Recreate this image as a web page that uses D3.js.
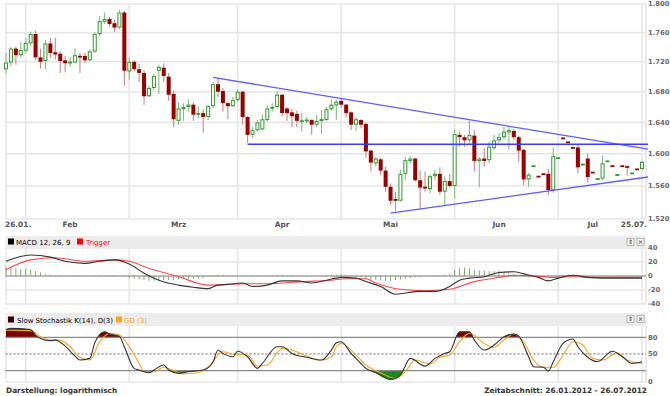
<!DOCTYPE html>
<html>
<head>
<meta charset="utf-8">
<script src="https://cdn.jsdelivr.net/npm/d3@7"></script>
<style>
  body { margin: 0; background: #fff; }
  svg text { font-family: "DejaVu Sans", Verdana, sans-serif; }
</style>
</head>
<body>
<div id="chart"></div>
<script>
// Gold, daily candles 26.01.2012 - 25.07.2012 (USD)
const opens = [1710,1719,1738,1729,1735,1745,1758,1726,1721,1745,1733,1731,1722,1718,1719,1728,1728,1722,1734,1758,
  1775,1779,1773,1767,1788,1707,1720,1710,1705,1674,1685,1708,1712,1700,1677,1642,1657,1660,1663,1650,
  1652,1647,1661,1690,1681,1665,1661,1669,1680,1647,1624,1630,1631,1643,1658,1660,1676,1658,1653,1651,
  1641,1642,1643,1637,1642,1643,1657,1662,1668,1663,1653,1637,1643,1638,1604,1588,1593,1579,1559,1544,
  1542,1575,1591,1594,1567,1559,1556,1572,1575,1553,1566,1560,1624,1621,1617,1623,1591,1594,1592,1607,
  1617,1621,1627,1629,1621,1605,1568,1584,1572,1575,1575,1555,1594,1620,1615,1608,1608,1586,1594,1577,
  1568,1569,1590,1585,1573,1585,1584,1575,1581,1581];
const highs = [1732,1740,1741,1747,1753,1761,1763,1738,1750,1753,1753,1734,1728,1727,1738,1732,1732,1737,1760,1783,
  1788,1782,1778,1792,1790,1726,1722,1717,1709,1688,1704,1716,1718,1705,1682,1666,1665,1670,1666,1661,
  1657,1663,1693,1698,1685,1667,1673,1683,1681,1648,1634,1643,1650,1663,1665,1681,1677,1660,1657,1655,
  1652,1647,1644,1650,1656,1660,1670,1669,1671,1664,1654,1647,1644,1640,1605,1596,1595,1584,1563,1553,
  1580,1596,1597,1595,1579,1578,1574,1580,1583,1572,1575,1631,1628,1624,1642,1630,1596,1607,1615,1624,
  1626,1634,1634,1632,1623,1606,1576,1585,1572,1575,1581,1608,1595,1620,1615,1608,1611,1587,1600,1577,
  1569,1598,1591,1585,1574,1585,1585,1576,1581,1591];
const lows = [1704,1714,1716,1726,1732,1741,1722,1711,1710,1725,1723,1705,1706,1713,1718,1705,1718,1721,1732,1755,
  1772,1768,1761,1765,1688,1696,1707,1693,1663,1673,1682,1677,1693,1668,1634,1637,1642,1654,1642,1645,
  1627,1643,1658,1673,1654,1644,1660,1667,1637,1614,1620,1628,1630,1641,1654,1658,1648,1642,1634,1634,
  1628,1639,1624,1634,1625,1642,1655,1643,1659,1647,1630,1629,1632,1595,1578,1584,1573,1553,1537,1529,
  1541,1567,1588,1566,1533,1553,1551,1567,1549,1535,1558,1545,1609,1609,1612,1578,1558,1584,1588,1605,
  1614,1618,1605,1617,1590,1561,1559,1584,1571,1574,1549,1552,1594,1619,1614,1607,1576,1586,1564,1576,
  1568,1567,1590,1584,1573,1584,1573,1575,1580,1580];
const closes = [1719,1738,1729,1736,1746,1758,1726,1720,1745,1732,1730,1721,1718,1720,1729,1726,1722,1734,1758,1776,
  1779,1772,1767,1788,1708,1720,1710,1705,1674,1685,1701,1713,1701,1676,1644,1658,1660,1663,1650,1652,
  1647,1661,1690,1680,1665,1661,1669,1680,1647,1624,1630,1640,1644,1658,1660,1676,1652,1652,1648,1642,
  1642,1643,1637,1642,1644,1657,1663,1667,1663,1652,1637,1644,1637,1603,1589,1594,1579,1559,1542,1542,
  1575,1592,1594,1567,1558,1557,1572,1575,1553,1566,1560,1625,1621,1617,1624,1591,1594,1591,1609,1617,
  1621,1628,1630,1621,1604,1568,1574,1585,1571,1574,1555,1597,1595,1619,1614,1607,1583,1587,1571,1576,
  1569,1588,1591,1584,1574,1584,1583,1576,1580,1590];

// MACD 12,26,9 : histogram per day, lines as [day index, value]
const histogram = [13,12,11,10,10,9,7,5,3,2,1,1,0,0,-1,-1,0,0,1,1,
  1,1,1,0,-1,-3,-4,-5,-6,-7,-7,-6,-6,-6,-6,-5,-4,-4,-4,-3,
  -3,-1,1,2,2,1,1,1,0,-1,-1,-1,0,0,1,2,2,1,1,0,
  0,-1,-1,0,1,1,2,2,2,1,0,-1,-2,-4,-5,-6,-6,-7,-7,-6,
  -5,-4,-3,-2,-2,-1,0,1,1,2,3,9,11,12,11,9,8,8,7,7,
  8,5,4,3,1,-1,-2,-2,-2,-2,-1,0,1,2,2,2,1,0,-1,-1,
  -1,0,0,0,-1,-1,-1,-1,-1,-1];
const macdLine = [[0,21],[5,30],[9,27],[12,21],[16,18],[19,21],[22,23],[25,17],[28,4],[31,-6],[35,-13],[38,-16],
  [41,-18],[43,-13],[45,-12],[48,-10],[50,-15],[53,-13],[56,-7],[59,-7],[62,-10],[65,-6],[68,-2],[71,-3],
  [73,-8],[76,-15],[79,-26],[84,-22],[87,-22],[90,-15],[92,-6],[94,-3],[97,-1],[100,5],[103,6],[105,3],
  [108,-2],[110,-7],[112,-3],[115,1],[118,-2],[121,-3],[129,-3]];
const triggerLine = [[0,9],[5,23],[10,26],[16,21],[22,23],[25,21],[29,11],[35,-1],[41,-13],[45,-12],[48,-11],
  [53,-11],[60,-8],[66,-6],[69,-4],[73,-4],[75,-10],[80,-19],[85,-21],[90,-19],[95,-8],[100,-2],[103,1],
  [107,0],[111,-2],[115,-1],[119,-2],[129,-2]];

// Slow Stochastik K(14), D(3)
const stochK = [[0,94],[1,96],[5,94],[6,84],[7,78],[9,74],[10,75],[12,64],[14,46],[15,39],[17,42],[18,70],
  [20,90],[21,86],[23,82],[24,63],[26,24],[27,21],[29,16],[30,21],[32,30],[33,21],[35,15],[37,18],[40,21],
  [42,36],[43,57],[44,51],[46,45],[47,55],[49,45],[51,24],[52,33],[55,63],[56,63],[58,51],[61,44],[64,39],
  [66,57],[67,70],[68,72],[70,51],[71,42],[73,24],[75,16],[78,4],[80,12],[82,42],[85,28],[87,42],[89,51],
  [90,54],[92,90],[94,90],[95,75],[97,57],[99,66],[101,81],[103,86],[104,82],[106,45],[107,27],[109,26],
  [110,19],[111,36],[113,69],[115,77],[116,63],[118,44],[120,36],[123,55],[125,45],[127,33],[129,36]];
const stochD = [[0,93],[5,92],[7,81],[9,75],[11,75],[13,63],[15,44],[17,39],[19,72],[21,87],[23,84],[25,63],
  [27,33],[28,18],[30,18],[32,26],[34,20],[36,14],[39,16],[41,26],[44,54],[46,50],[49,48],[51,28],[53,30],
  [56,60],[58,57],[61,46],[64,39],[66,45],[67,63],[68,69],[71,48],[73,30],[76,16],[79,6],[81,18],[83,39],
  [86,32],[88,44],[90,48],[92,72],[94,87],[97,69],[99,62],[101,75],[103,86],[105,72],[107,39],[109,26],
  [111,26],[113,48],[115,72],[117,66],[119,42],[121,39],[124,52],[126,39],[129,33]];

// Trend lines: [date, price] anchors, drawn on to the right edge
const trendLines = [
  [['2012-03-26', 1699], ['2012-07-25', 1607]],
  [['2012-04-04', 1612], ['2012-07-25', 1612]],
  [['2012-05-15', 1527], ['2012-07-25', 1570]]
];

const priceTicks = [1520, 1560, 1600, 1640, 1680, 1720, 1760, 1800];
const macdTicks = [40, 20, 0, -20, -40];
const stochTicks = [80, 50, 0];
const monthStarts = ['2012-02-01', '2012-03-01', '2012-04-02', '2012-05-01', '2012-06-01', '2012-07-02'];
const monthLabels = [['Feb', '2012-02-14'], ['Mrz', '2012-03-15'], ['Apr', '2012-04-13'],
  ['Mai', '2012-05-15'], ['Jun', '2012-06-14'], ['Jul', '2012-07-11']];

const fmt = d3.timeFormat('%Y-%m-%d');
const dates = d3.timeDay.range(new Date(2012, 0, 26), new Date(2012, 6, 26))
  .filter(d => d.getDay() % 6 !== 0).map(fmt);

const candles = dates.map((d, i) => ({ date: d, o: opens[i], h: highs[i], l: lows[i], c: closes[i] }));

const w = 670, h = 396;
const left = 5.5, right = 646;
const de = d3.formatLocale({ decimal: ',', thousands: '.', grouping: [3], currency: ['', ''] });

const svg = d3.select('#chart').append('svg')
  .attr('width', w).attr('height', h)
  .style('display', 'block');

const x = d3.scalePoint().domain(dates).range([6, 642]);
const y = d3.scaleLog().domain([1520, 1800]).range([219, 4]);
const yM = d3.scaleLinear().domain([-40, 40]).range([304, 248]);
const yS = d3.scaleLinear().domain([0, 100]).range([381.7, 326.2]);

const gridColor = '#e6e6e6';
const vDates = [dates[0], ...monthStarts, dates[dates.length - 1]];
const axisFont = 6.8;

// vertical grid + borders for a panel
function panelGrid(top, bottom) {
  svg.append('g').selectAll('line').data(vDates).enter().append('line')
    .attr('x1', d => x(d)).attr('x2', d => x(d))
    .attr('y1', top).attr('y2', bottom)
    .attr('stroke', gridColor).attr('stroke-width', 1.6);
  svg.append('line').attr('x1', right).attr('x2', right).attr('y1', top).attr('y2', bottom)
    .attr('stroke', '#d4d4d4').attr('stroke-width', 1);
}

//Main panel
panelGrid(4, 219);
svg.append('g').selectAll('line').data(priceTicks).enter().append('line')
  .attr('x1', left).attr('x2', right)
  .attr('y1', d => y(d)).attr('y2', d => y(d))
  .attr('stroke', gridColor).attr('stroke-width', 1.6);

svg.append('g').selectAll('text').data(priceTicks).enter().append('text')
  .attr('x', 648).attr('y', d => y(d)).attr('dy', '0.35em')
  .attr('font-size', axisFont).attr('font-weight', 'bold').attr('fill', '#6a6a6a')
  .text(d => de.format(',')(d));

// x labels
svg.append('text').attr('x', 5).attr('y', 227).attr('font-size', 7.4).attr('font-weight', 'bold')
  .attr('fill', '#555').text('26.01.');
svg.append('text').attr('x', 647).attr('y', 227).attr('text-anchor', 'end').attr('font-size', 7.4)
  .attr('font-weight', 'bold').attr('fill', '#555').text('25.07.');
svg.append('g').selectAll('text').data(monthLabels).enter().append('text')
  .attr('x', d => x(d[1])).attr('y', 227).attr('text-anchor', 'middle')
  .attr('font-size', 7.4).attr('font-weight', 'bold').attr('fill', '#555')
  .text(d => d[0]);

// Candles
const up = '#2f9a2f', down = '#990000';
const cg = svg.append('g');
cg.selectAll('line').data(candles).enter().append('line')
  .attr('x1', d => x(d.date)).attr('x2', d => x(d.date))
  .attr('y1', d => y(d.h)).attr('y2', d => y(d.l))
  .attr('stroke', d => d.c >= d.o ? '#80c080' : '#d08585')
  .attr('stroke-width', 1.1);

cg.selectAll('rect').data(candles).enter().append('rect')
  .each(function (d) {
    const r = d3.select(this);
    const top = y(Math.max(d.o, d.c)), bot = y(Math.min(d.o, d.c));
    const isUp = d.c >= d.o;
    if (bot - top < 2) {
      r.attr('x', x(d.date) - 2).attr('width', 4)
        .attr('y', (top + bot) / 2 - 0.9).attr('height', 1.8)
        .attr('fill', isUp ? up : down);
    } else if (isUp) {
      r.attr('x', x(d.date) - 1.5).attr('width', 3)
        .attr('y', top + 0.5).attr('height', bot - top - 1)
        .attr('fill', '#fff').attr('stroke', up).attr('stroke-width', 1);
    } else {
      r.attr('x', x(d.date) - 2).attr('width', 4)
        .attr('y', top).attr('height', bot - top)
        .attr('fill', down);
    }
  });

// Trend lines
trendLines.forEach((t, k) => {
  const x1 = x(t[0][0]), y1 = y(t[0][1]), x2 = x(t[1][0]), y2 = y(t[1][1]);
  const xe = 648, ye = y1 + (y2 - y1) * (xe - x1) / (x2 - x1);
  svg.append('line').attr('x1', x1).attr('y1', y1).attr('x2', xe).attr('y2', ye)
    .attr('stroke', k === 1 ? '#3b3bff' : '#5c5cff').attr('stroke-width', 1.3);
});

// Panel header bands
function header(top, hgt) {
  svg.append('rect').attr('x', left).attr('y', top).attr('width', right - left).attr('height', hgt)
    .attr('fill', '#ececec');
  [627, 637].forEach((bx, j) => {
    svg.append('rect').attr('x', bx).attr('y', top + 2.5).attr('width', 7).attr('height', 7)
      .attr('fill', '#f6f6f6').attr('stroke', '#a8a8a8').attr('stroke-width', 0.8);
    svg.append('text').attr('x', bx + 3.5).attr('y', top + 8.3).attr('text-anchor', 'middle')
      .attr('font-size', 6).attr('font-weight', 'bold').attr('fill', '#555')
      .text(j === 0 ? '⇕' : '×');
  });
}

//MACD panel
header(236, 11);
svg.append('rect').attr('x', 8).attr('y', 238.5).attr('width', 6).attr('height', 6).attr('fill', '#000');
svg.append('text').attr('x', 16).attr('y', 244.5).attr('font-size', 7).attr('fill', '#000').text('MACD 12, 26, 9');
svg.append('rect').attr('x', 77).attr('y', 238.5).attr('width', 6).attr('height', 6).attr('fill', '#f00');
svg.append('text').attr('x', 86).attr('y', 244.5).attr('font-size', 7).attr('fill', '#f00').text('Trigger');

panelGrid(247, 304);
svg.append('g').selectAll('line').data(macdTicks.filter(d => d !== 0)).enter().append('line')
  .attr('x1', left).attr('x2', right)
  .attr('y1', d => yM(d)).attr('y2', d => yM(d))
  .attr('stroke', gridColor).attr('stroke-width', 1.6);
svg.append('line').attr('x1', left).attr('x2', right).attr('y1', yM(0)).attr('y2', yM(0))
  .attr('stroke', '#777').attr('stroke-width', 1);
svg.append('g').selectAll('text').data(macdTicks).enter().append('text')
  .attr('x', 648).attr('y', d => yM(d)).attr('dy', '0.35em')
  .attr('font-size', axisFont).attr('font-weight', 'bold').attr('fill', '#6a6a6a')
  .text(d => d);

svg.append('g').selectAll('line').data(histogram).enter().append('line')
  .attr('x1', (d, i) => x(dates[i])).attr('x2', (d, i) => x(dates[i]))
  .attr('y1', yM(0)).attr('y2', d => yM(d))
  .attr('stroke', '#82a872').attr('stroke-width', 1);

const lineM = d3.line().x(d => x(dates[d[0]])).y(d => yM(d[1])).curve(d3.curveMonotoneX);
svg.append('path').datum(triggerLine).attr('d', lineM).attr('fill', 'none')
  .attr('stroke', '#ff4a4a').attr('stroke-width', 1.1);
svg.append('path').datum(macdLine).attr('d', lineM).attr('fill', 'none')
  .attr('stroke', '#333').attr('stroke-width', 1.1);

//Stochastik panel
header(313, 13);
svg.append('rect').attr('x', 8).attr('y', 316.5).attr('width', 6).attr('height', 6).attr('fill', '#3a0000');
svg.append('text').attr('x', 17).attr('y', 322.5).attr('font-size', 7).attr('fill', '#000')
  .text('Slow Stochastik K(14), D(3)');
svg.append('rect').attr('x', 116).attr('y', 316.5).attr('width', 6).attr('height', 6).attr('fill', '#f5a623');
svg.append('text').attr('x', 124).attr('y', 322.5).attr('font-size', 7).attr('fill', '#f5a623').text('GD (3)');

panelGrid(326, 382);
svg.append('line').attr('x1', left).attr('x2', right).attr('y1', 382).attr('y2', 382)
  .attr('stroke', gridColor).attr('stroke-width', 1.6);

const defs = svg.append('defs');
defs.append('clipPath').attr('id', 'above80').append('rect')
  .attr('x', left).attr('y', 320).attr('width', right - left).attr('height', yS(80) - 320);
defs.append('clipPath').attr('id', 'below20').append('rect')
  .attr('x', left).attr('y', yS(20)).attr('width', right - left).attr('height', 390 - yS(20));

const areaHi = d3.area().x(d => x(dates[d[0]])).y0(yS(80)).y1(d => yS(d[1])).curve(d3.curveMonotoneX);
const areaLo = d3.area().x(d => x(dates[d[0]])).y0(yS(20)).y1(d => yS(d[1])).curve(d3.curveMonotoneX);
svg.append('path').datum(stochK).attr('d', areaHi).attr('fill', '#7a0000').attr('clip-path', 'url(#above80)');
svg.append('path').datum(stochK).attr('d', areaLo).attr('fill', '#1a8a1a').attr('clip-path', 'url(#below20)');

[80, 20].forEach(v => {
  svg.append('line').attr('x1', left).attr('x2', right).attr('y1', yS(v)).attr('y2', yS(v))
    .attr('stroke', '#8a8a8a').attr('stroke-width', 1.3);
});
svg.append('line').attr('x1', left).attr('x2', right).attr('y1', yS(50)).attr('y2', yS(50))
  .attr('stroke', '#666').attr('stroke-width', 1).attr('stroke-dasharray', '2,2');
svg.append('g').selectAll('text').data(stochTicks).enter().append('text')
  .attr('x', 648).attr('y', d => yS(d)).attr('dy', '0.35em')
  .attr('font-size', axisFont).attr('font-weight', 'bold').attr('fill', '#6a6a6a')
  .text(d => d);

const lineS = d3.line().x(d => x(dates[d[0]])).y(d => yS(d[1])).curve(d3.curveMonotoneX);
svg.append('path').datum(stochD).attr('d', lineS).attr('fill', 'none')
  .attr('stroke', '#f5a623').attr('stroke-width', 1.1);
svg.append('path').datum(stochK).attr('d', lineS).attr('fill', 'none')
  .attr('stroke', '#333').attr('stroke-width', 1.1);

// Footer
svg.append('text').attr('x', 6).attr('y', 393).attr('font-size', 7.4).attr('font-weight', 'bold')
  .attr('fill', '#333').text('Darstellung: logarithmisch');
svg.append('text').attr('x', 647).attr('y', 393).attr('text-anchor', 'end').attr('font-size', 7.4)
  .attr('font-weight', 'bold').attr('fill', '#333').text('Zeitabschnitt: 26.01.2012 - 26.07.2012');
</script>
</body>
</html>
